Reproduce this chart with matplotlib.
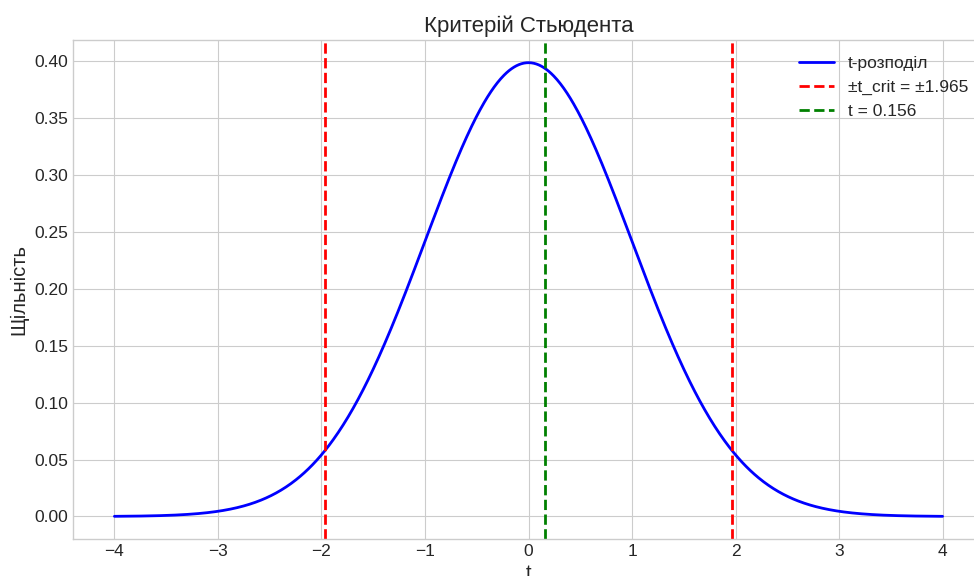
import math
import numpy as np
import matplotlib
matplotlib.use("Agg")
import matplotlib.pyplot as plt

# Student's t test: statistic, critical value and degrees of freedom
dof = 498
t_crit = 1.965
t_stat = 0.156
x_range = [-4, 4]

title = "Критерій Стьюдента"
x_label = "t"
y_label = "Щільність"
curve_label = "t-розподіл"
crit_label = f"±t_crit = ±{t_crit:.3f}"
stat_label = f"t = {t_stat:.3f}"


def t_pdf(x, df):
    log_c = (math.lgamma((df + 1) / 2) - math.lgamma(df / 2)
             - 0.5 * math.log(df * math.pi))
    return np.exp(log_c) * (1 + x ** 2 / df) ** (-(df + 1) / 2)


x = np.linspace(x_range[0], x_range[1], 1000)
y = t_pdf(x, dof)

plt.style.use("seaborn-v0_8-whitegrid")
plt.rcParams["font.family"] = ["Liberation Sans", "DejaVu Sans"]

W, H = 974, 576
fig = plt.figure(figsize=(W / 100, H / 100), dpi=100)
left, right, top, bottom = 73, 984, 40, 539
ax = fig.add_axes([left / W, (H - bottom) / H, (right - left) / W, (bottom - top) / H])

ax.plot(x, y, color="blue", linewidth=2, label=curve_label)
ax.axvline(-t_crit, color="red", linestyle="--", linewidth=2, label=crit_label)
ax.axvline(t_crit, color="red", linestyle="--", linewidth=2)
ax.axvline(t_stat, color="green", linestyle="--", linewidth=2, label=stat_label)

ax.set_title(title, fontsize=16, color="#262626")
ax.set_xlabel(x_label, fontsize=14.5, color="#262626")
ax.set_ylabel(y_label, fontsize=14.5, color="#262626")
ax.tick_params(labelsize=12.5, colors="#262626")
ax.legend(loc="upper right", fontsize=12.5)

fig.savefig("out.png", dpi=100)
